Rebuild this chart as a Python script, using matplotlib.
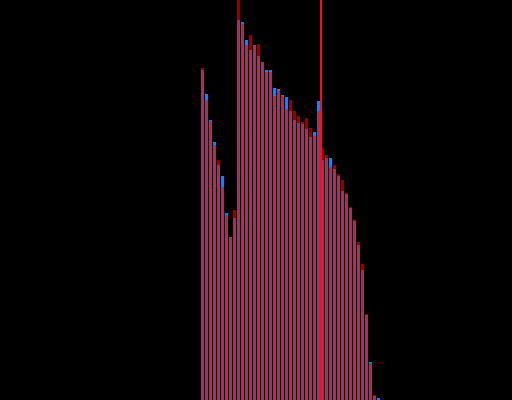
import matplotlib
matplotlib.use("Agg")
import matplotlib.pyplot as plt
import numpy as np

# bin index of each bar
bins = np.arange(45)

# counts per bin, two series
red_counts = [332, 300, 279, 255, 240, 213, 185, 163, 190, 410,
              376, 355, 365, 355, 356, 338, 328, 328, 304, 309,
              304, 291, 300, 289, 284, 278, 282, 272, 264, 289,
              252, 245, 233, 235, 226, 220, 207, 193, 180, 158,
              136, 86, 37, 5, 0]
blue_counts = [330, 306, 280, 258, 235, 224, 187, 163, 182, 380,
               378, 360, 350, 355, 344, 338, 330, 330, 312, 311,
               305, 303, 289, 280, 277, 276, 271, 263, 268, 299,
               240, 242, 242, 231, 224, 209, 206, 192, 179, 155,
               130, 85, 38, 4, 2]

# marker line
marker_x = 29.5

fig = plt.figure(figsize=(5.12, 4), dpi=100, facecolor='black')
ax = fig.add_axes([0, 0, 1, 1])
ax.set_facecolor('black')

ax.bar(bins, blue_counts, width=0.75, color='#0a84ff', linewidth=0)
ax.bar(bins, red_counts, width=0.75, color='#ff0000', alpha=0.6, linewidth=0)
ax.axvline(marker_x, color='#e8141e', linewidth=1.5)

ax.set_xlim(-50.625, 77.375)
ax.set_ylim(0, 400)
ax.axis('off')

plt.savefig('out.png', dpi=100, facecolor='black')
